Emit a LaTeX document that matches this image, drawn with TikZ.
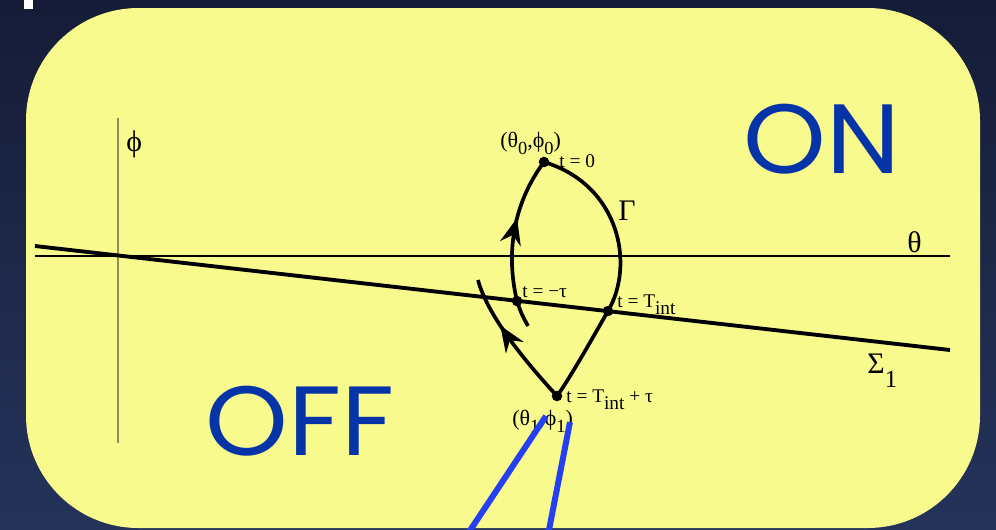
\documentclass[tikz,border=0pt]{standalone}
\usepackage{fontspec}
\setmainfont{Liberation Serif}
\newfontfamily\bigfont{Poppins}
\usetikzlibrary{arrows.meta,decorations.markings,positioning}

\definecolor{slidetop}{HTML}{161C37}
\definecolor{slidebot}{HTML}{25335B}
\definecolor{panel}{HTML}{F9FA8E}
\definecolor{onoff}{HTML}{0434A8}
\definecolor{ptrblue}{HTML}{2340F2}
\definecolor{axgray}{HTML}{8E8E5C}

\newcommand{\lowsub}[1]{\raisebox{-4.5pt}{#1}}

\begin{document}
\begin{tikzpicture}[
  x=0.02cm, y=-0.02cm,
  >=Stealth,
  lbl/.style    = {font=\fontsize{11}{13}\selectfont, inner sep=0pt},
  glbl/.style   = {font=\fontsize{17}{19}\selectfont, inner sep=0pt},
  big/.style    = {font=\bigfont\fontsize{56}{56}\selectfont, text=onoff,
                   inner sep=0pt, xscale=1.07},
  dot/.style    = {circle, fill=black, inner sep=0pt, minimum size=6pt},
  curve/.style  = {line width=2.1pt},
  midarrow/.style = {postaction={decorate},
    decoration={markings, mark=at position #1 with
      {\arrow{Stealth[length=15pt,width=12pt,inset=5pt]}}}},
  ptrline/.style = {line width=3.4pt, ptrblue},
]

\useasboundingbox (0,0) rectangle (996,529);
\shade[top color=slidetop, bottom color=slidebot] (0,0) rectangle (996,529);
\fill[white] (24,0) rectangle (33,9);
\fill[panel, rounded corners=2.25cm] (26,8) rectangle (980,528);
\clip (0,0) rectangle (996,529);

% axes
\draw[axgray, line width=1.4pt] (118,118) -- (118,443);
\node[glbl, anchor=base west] (phi) at (126,151) {ϕ};
\draw[line width=0.6pt] (35,256) -- (950,256);
\node[glbl, anchor=base west] (theta) at (907,252) {θ};

% section line
\coordinate (sigA) at (35,246);
\coordinate (sigB) at (950,350);
\draw[line width=2.2pt] (sigA) -- (sigB);
\node[glbl, anchor=base west] (sigma) at (867,373) {Σ\raisebox{-8.5pt}{\fontsize{14}{16}\selectfont 1}};

% orbit
\node[dot] (t0)   at (544,162) {};
\node[dot] (tau)  at (517,301) {};
\node[dot] (tint) at (608,311) {};
\node[dot] (tend) at (557,396) {};
\coordinate (arcL) at (478,280);
\coordinate (arcM) at (528,326);

\draw[curve] (t0.center) .. controls (620,185) and (635,265) .. (tint.center)
  .. controls (597,330) and (572,375) .. (tend.center);
\draw[curve, midarrow=0.64] (tend.center) .. controls (522,358) and (487,314) .. (arcL);
\draw[curve, midarrow=0.64] (arcM) .. controls (521,313) .. (tau.center)
  .. controls (506,255) and (512,205) .. (t0.center);

\node[glbl, anchor=base west] (gamma) at (618,220) {Γ};

\node[lbl, anchor=base west] (lt0)   at (559,167) {t = 0};
\node[lbl, anchor=base west] (ltau)  at (522,297) {t = −τ};
\node[lbl, anchor=base west] (ltint) at (617,307) {t = T\lowsub{int}};
\node[lbl, anchor=base west] (lend)  at (566,402) {t = T\lowsub{int} + τ};
\node[lbl, font=\fontsize{12.5}{14}\selectfont, anchor=base west] (p0) at (500,147)
  {(θ\lowsub{\fontsize{10.5}{12}\selectfont 0},ϕ\lowsub{\fontsize{10.5}{12}\selectfont 0})};
\node[lbl, font=\fontsize{12.5}{14}\selectfont, anchor=base west] (p1) at (512,425)
  {(θ\lowsub{\fontsize{10.5}{12}\selectfont 1},ϕ\lowsub{\fontsize{10.5}{12}\selectfont 1})};

% pointers
\coordinate (ptrA) at (546,416);
\coordinate (ptrB) at (570,422);
\draw[ptrline] (ptrA) -- (467,535);
\draw[ptrline] (ptrB) -- (548,535);

% regions
\node[big] (on)  at (822,139) {ON};
\node[big] (off) at (300,421) {OFF};

\end{tikzpicture}
\end{document}
